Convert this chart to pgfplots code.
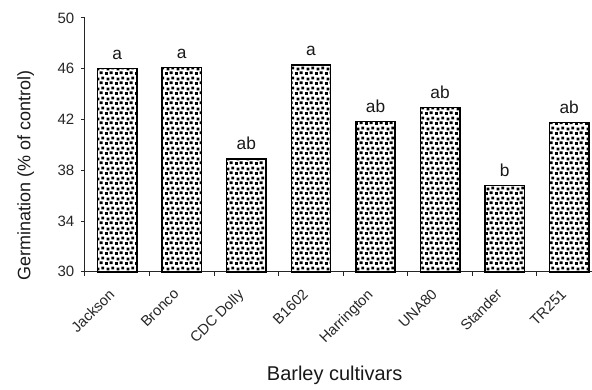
\documentclass[border=0pt]{standalone}
\usepackage{pgfplots}
\pgfplotsset{compat=1.18}
\usepackage{pgfplotstable}
\usepackage{fontspec}
\setmainfont{Liberation Sans}
\usetikzlibrary{patterns}
\pgfdeclarepatternformonly{confetti}{\pgfpointorigin}{\pgfpoint{7.2pt}{7.2pt}}{\pgfpoint{7.2pt}{7.2pt}}{%
  \pgfpathrectangle{\pgfpoint{0pt}{0pt}}{\pgfpoint{2.2pt}{2.2pt}}%
  \pgfpathrectangle{\pgfpoint{3.7pt}{0.7pt}}{\pgfpoint{2.2pt}{2.2pt}}%
  \pgfpathrectangle{\pgfpoint{1.3pt}{3.6pt}}{\pgfpoint{2.2pt}{2.2pt}}%
  \pgfpathrectangle{\pgfpoint{4.9pt}{4.3pt}}{\pgfpoint{2.2pt}{2.2pt}}%
  \pgfusepath{fill}%
}
\pgfplotstableread{
x y lab
0 46.0 a
1 46.1 a
2 38.9 ab
3 46.3 a
4 41.85 ab
5 42.95 ab
6 36.8 b
7 41.75 ab
}\datatable
\begin{document}
\begin{tikzpicture}
\path (-63.75pt,-88.5pt) rectangle (380.25pt,204pt);
\begin{axis}[
  at={(0pt,0pt)}, anchor=south west,
  scale only axis,
  width=380.25pt, height=190.5pt,
  xmin=-0.5, xmax=7.345,
  ymin=30, ymax=50,
  axis x line=bottom, axis y line=left,
  axis line style={-, line width=0.75pt, black!85},
  ytick={30,34,...,50},
  xtick={0,...,7},
  xticklabels={Jackson,Bronco,CDC Dolly,B1602,Harrington,UNA80,Stander,TR251},
  major x tick style={draw=none},
  minor xtick={-0.5,0.5,...,6.5},
  minor tick length=3pt,
  major tick length=3pt,
  tick align=outside,
  tick style={line width=0.75pt, black!85},
  /pgf/number format/assume math mode=true,
  yticklabel style={font=\fontsize{11.25}{13}\selectfont, text=black!85, xshift=-1.5pt},
  xticklabel style={font=\fontsize{11}{13}\selectfont, xshift=-7pt, yshift=-7.5pt, rotate=45, anchor=north east, text=black!85, inner sep=1pt},
  xlabel={Barley cultivars},
  ylabel={Germination (\% of control)},
  xlabel style={font=\fontsize{15}{17}\selectfont, at={(axis description cs:0.493,-0.408)}, anchor=center, text=black!90},
  ylabel style={font=\fontsize{13.5}{16}\selectfont, at={(axis description cs:-0.117,0.381)}, anchor=center, text=black!90},
  clip=false,
]
\addplot[ybar, bar width=0.61, draw=black, line width=1.1pt, pattern=confetti, pattern color=black,
  nodes near coords, point meta=explicit symbolic,
  every node near coord/.append style={font=\fontsize{13}{15}\selectfont, anchor=base, yshift=7pt, text=black!90}]
  table[x=x, y=y, meta=lab] {\datatable};
\end{axis}
\end{tikzpicture}
\end{document}
